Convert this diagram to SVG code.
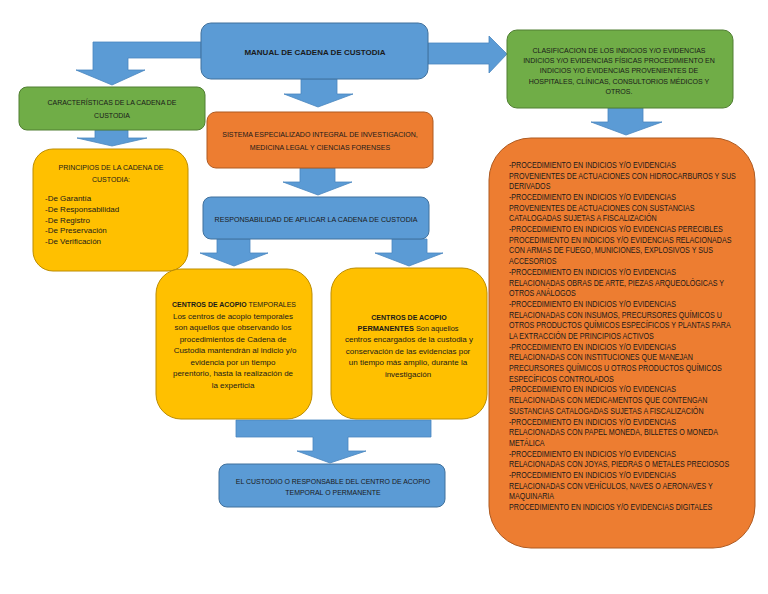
<svg xmlns="http://www.w3.org/2000/svg" width="768" height="594" viewBox="0 0 768 594">
<style>
text{font-family:"Liberation Sans",Arial,sans-serif;fill:#1a1a1a;font-size:8px}
.c{text-anchor:middle}
.b{font-weight:bold}
.blue{fill:#5B9BD5;stroke:#41719C;stroke-width:1}
.green{fill:#70AD47;stroke:#507E32;stroke-width:1}
.orange{fill:#ED7D31;stroke:#AE5A21;stroke-width:1}
.yellow{fill:#FFC000;stroke:#BC8C00;stroke-width:1}
.arrow{fill:#5B9BD5;stroke:#4A86BF;stroke-width:0.8}
.big text{font-size:8.5px}
</style>
<rect width="768" height="594" fill="#ffffff"/>
<g id="connectors">
<polygon class="arrow" points="201,42 93,42 93,70 76,70 112,85 145,70 128,70 128,58 201,58"/>
<polygon class="arrow" points="428,43 489,43 489,36 507,54 489,73 489,64 428,64"/>
<polygon class="arrow" points="301,79 337,79 337,94 353,94 318,107 284,94 301,94"/>
<polygon class="arrow" points="95,130 128,130 128,138 147,138 112,146 77,138 95,138"/>
<polygon class="arrow" points="300,168 335,168 335,182 352,182 318,195 283,182 300,182"/>
<polygon class="arrow" points="217,239 250,239 250,253 268,253 234,266 200,253 217,253"/>
<polygon class="arrow" points="392,239 427,239 427,253 443,253 409,266 375,253 392,253"/>
<polygon class="arrow" points="608,108 643,108 643,122 662,122 626,135 591,122 608,122"/>
<polygon class="arrow" points="236,420 431,420 431,437 348,437 348,451 366,451 330,463 297,451 313,451 313,437 236,437"/>
</g>
<g id="manual">
<rect class="blue" x="201" y="23" width="227" height="56" rx="10"/>
<text class="c b" x="315" y="55">MANUAL DE CADENA DE CUSTODIA</text>
</g>
<g id="caracteristicas">
<rect class="green" x="19" y="87" width="186" height="43" rx="8"/>
<g transform="translate(112 0) scale(0.87 1)">
<text class="c" x="0" y="105">CARACTERÍSTICAS DE LA CADENA DE</text>
<text class="c" x="0" y="118">CUSTODIA</text>
</g>
</g>
<g id="principios">
<rect class="yellow" x="33" y="149" width="155" height="122" rx="20"/>
<g transform="translate(111 0) scale(0.88 1)">
<text class="c" x="0" y="170">PRINCIPIOS DE LA CADENA DE</text>
<text class="c" x="0" y="182">CUSTODIA:</text>
</g>
<text x="45" y="201">-De Garantía</text>
<text x="45" y="212">-De Responsabilidad</text>
<text x="45" y="223">-De Registro</text>
<text x="45" y="233">-De Preservación</text>
<text x="45" y="244">-De Verificación</text>
</g>
<g id="sistema">
<rect class="orange" x="207" y="112" width="226" height="56" rx="9"/>
<g transform="translate(320 0) scale(0.88 1)">
<text class="c" x="0" y="137">SISTEMA ESPECIALIZADO INTEGRAL DE INVESTIGACION,</text>
<text class="c" x="0" y="150">MEDICINA LEGAL Y CIENCIAS FORENSES</text>
</g>
</g>
<g id="responsabilidad">
<rect class="blue" x="203" y="197" width="226" height="42" rx="8"/>
<g transform="translate(316 0) scale(0.89 1)">
<text class="c" x="0" y="222">RESPONSABILIDAD DE APLICAR LA CADENA DE CUSTODIA</text>
</g>
</g>
<g id="temporales">
<rect class="yellow" x="156" y="269" width="156" height="150" rx="25"/>
<g transform="translate(234 0) scale(0.87 1)">
<text class="c" x="0" y="307"><tspan class="b">CENTROS DE ACOPIO</tspan> TEMPORALES</text>
</g>
<text class="c" x="233" y="319">Los centros de acopio temporales</text>
<text class="c" x="233" y="330">son aquellos que observando los</text>
<text class="c" x="233" y="341.5">procedimientos de Cadena de</text>
<text class="c" x="235" y="353">Custodia mantendrán al indicio y/o</text>
<text class="c" x="233" y="364.5">evidencia por un tiempo</text>
<text class="c" x="233" y="376">perentorio, hasta la realización de</text>
<text class="c" x="233" y="387.5">la experticia</text>
</g>
<g id="permanentes">
<rect class="yellow" x="331" y="268" width="156" height="151" rx="25"/>
<g transform="translate(409 0) scale(0.88 1)">
<text class="c b" x="0" y="320">CENTROS DE ACOPIO</text>
</g>
<g transform="translate(408 0) scale(0.92 1)">
<text class="c" x="0" y="331"><tspan class="b">PERMANENTES</tspan> Son aquellos</text>
</g>
<text class="c" x="409" y="342">centros encargados de la custodia y</text>
<text class="c" x="408" y="353.5">conservación de las evidencias por</text>
<text class="c" x="408" y="365">un tiempo más amplio, durante la</text>
<text class="c" x="408" y="376.5">investigación</text>
</g>
<g id="custodio">
<rect class="blue" x="219" y="464" width="226" height="43" rx="8"/>
<g transform="translate(333 0) scale(0.87 1)">
<text class="c" x="0" y="484">EL CUSTODIO O RESPONSABLE DEL CENTRO DE ACOPIO</text>
<text class="c" x="0" y="495">TEMPORAL O PERMANENTE</text>
</g>
</g>
<g id="clasificacion">
<rect class="green" x="507" y="30" width="226" height="78" rx="10"/>
<g transform="translate(619 0) scale(0.88 1)">
<text class="c" x="0" y="53">CLASIFICACION DE LOS INDICIOS Y/O EVIDENCIAS</text>
<text class="c" x="0" y="63">INDICIOS Y/O EVIDENCIAS FÍSICAS PROCEDIMIENTO EN</text>
<text class="c" x="0" y="73.5">INDICIOS Y/O EVIDENCIAS PROVENIENTES DE</text>
<text class="c" x="0" y="84">HOSPITALES, CLÍNICAS, CONSULTORIOS MÉDICOS Y</text>
<text class="c" x="0" y="94.5">OTROS.</text>
</g>
</g>
<g id="procedimientos" class="big">
<rect class="orange" x="489" y="138" width="266" height="410" rx="42"/>
<g transform="translate(509 0) scale(0.84 1)">
<text x="0" y="168">-PROCEDIMIENTO EN INDICIOS Y/O EVIDENCIAS</text>
<text x="0" y="178.7">PROVENIENTES DE ACTUACIONES CON HIDROCARBUROS Y SUS</text>
<text x="0" y="189.4">DERIVADOS</text>
<text x="0" y="200.1">-PROCEDIMIENTO EN INDICIOS Y/O EVIDENCIAS</text>
<text x="0" y="210.8">PROVENIENTES DE ACTUACIONES CON SUSTANCIAS</text>
<text x="0" y="221.5">CATALOGADAS SUJETAS A FISCALIZACIÓN</text>
<text x="0" y="232.1">-PROCEDIMIENTO EN INDICIOS Y/O EVIDENCIAS PERECIBLES</text>
<text x="0" y="242.8">PROCEDIMIENTO EN INDICIOS Y/O EVIDENCIAS RELACIONADAS</text>
<text x="0" y="253.5">CON ARMAS DE FUEGO, MUNICIONES, EXPLOSIVOS Y SUS</text>
<text x="0" y="264.2">ACCESORIOS</text>
<text x="0" y="274.9">-PROCEDIMIENTO EN INDICIOS Y/O EVIDENCIAS</text>
<text x="0" y="285.6">RELACIONADAS OBRAS DE ARTE, PIEZAS ARQUEOLÓGICAS Y</text>
<text x="0" y="296.3">OTROS ANÁLOGOS</text>
<text x="0" y="307">-PROCEDIMIENTO EN INDICIOS Y/O EVIDENCIAS</text>
<text x="0" y="317.7">RELACIONADAS CON INSUMOS, PRECURSORES QUÍMICOS U</text>
<text x="0" y="328.4">OTROS PRODUCTOS QUÍMICOS ESPECÍFICOS Y PLANTAS PARA</text>
<text x="0" y="339">LA EXTRACCIÓN DE PRINCIPIOS ACTIVOS</text>
<text x="0" y="349.7">-PROCEDIMIENTO EN INDICIOS Y/O EVIDENCIAS</text>
<text x="0" y="360.4">RELACIONADAS CON INSTITUCIONES QUE MANEJAN</text>
<text x="0" y="371.1">PRECURSORES QUÍMICOS U OTROS PRODUCTOS QUÍMICOS</text>
<text x="0" y="381.8">ESPECÍFICOS CONTROLADOS</text>
<text x="0" y="392.5">-PROCEDIMIENTO EN INDICIOS Y/O EVIDENCIAS</text>
<text x="0" y="403.2">RELACIONADAS CON MEDICAMENTOS QUE CONTENGAN</text>
<text x="0" y="413.9">SUSTANCIAS CATALOGADAS SUJETAS A FISCALIZACIÓN</text>
<text x="0" y="424.6">-PROCEDIMIENTO EN INDICIOS Y/O EVIDENCIAS</text>
<text x="0" y="435.2">RELACIONADAS CON PAPEL MONEDA, BILLETES O MONEDA</text>
<text x="0" y="445.9">METÁLICA</text>
<text x="0" y="456.6">-PROCEDIMIENTO EN INDICIOS Y/O EVIDENCIAS</text>
<text x="0" y="467.3">RELACIONADAS CON JOYAS, PIEDRAS O METALES PRECIOSOS</text>
<text x="0" y="478">-PROCEDIMIENTO EN INDICIOS Y/O EVIDENCIAS</text>
<text x="0" y="488.7">RELACIONADAS CON VEHÍCULOS, NAVES O AERONAVES Y</text>
<text x="0" y="499.4">MAQUINARIA</text>
<text x="0" y="510.1">PROCEDIMIENTO EN INDICIOS Y/O EVIDENCIAS DIGITALES</text>
</g>
</g>
</svg>
